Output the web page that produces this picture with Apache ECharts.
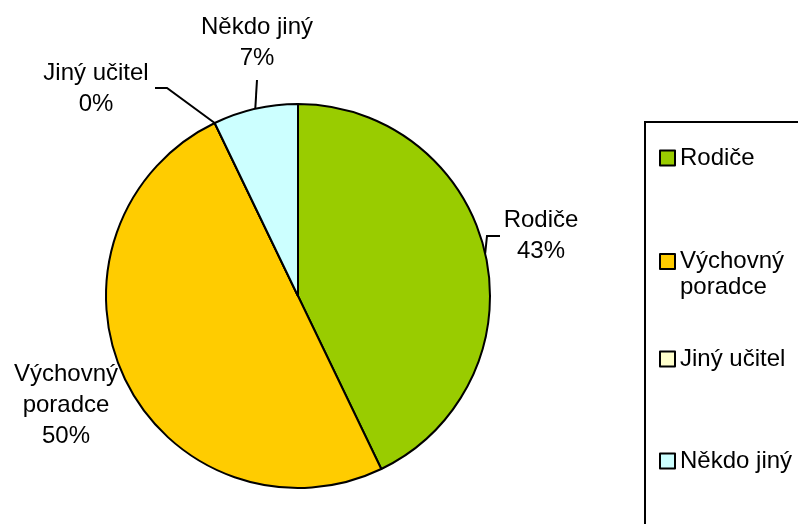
<!DOCTYPE html>
<html>
<head>
<meta charset="utf-8">
<script src="https://cdn.jsdelivr.net/npm/echarts@6/dist/echarts.min.js"></script>
<style>
html,body{margin:0;padding:0;background:#fff;}
#chart{width:798px;height:524px;}
</style>
</head>
<body>
<div id="chart"></div>
<script>
// ---- data ----
const categories = ['Rodiče', 'Výchovný poradce', 'Jiný učitel', 'Někdo jiný'];
const values = [6, 7, 0, 1];           // gives 43 %, 50 %, 0 %, 7 %
const displayNames = ['Rodiče', 'Výchovný\nporadce', 'Jiný učitel', 'Někdo jiný'];
const legendNames = ['Rodiče', ' \nVýchovný\nporadce', 'Jiný učitel', 'Někdo jiný'];
const colors = ['#99CC00', '#FFCC00', '#FFFFCC', '#CCFFFF'];

// ---- layout (not data) ----
const FONT = "'Liberation Sans', Arial, Helvetica, sans-serif";
const labelLayoutSpec = [
  { x: 541, y: 236, elbow: [487, 236], end: [500, 236], line: true },
  { x: 66,  y: 405, line: false },
  { x: 96,  y: 89,  elbow: [167, 88], end: [155, 88], line: true },
  { x: 257, y: 43,  elbow: [257, 80], end: [257, 80], line: true }
];
const legendTops = [142.5, 222.5, 343.5, 445.5];
const legendLineHeights = [31, 26, 31, 31];

const chart = echarts.init(document.getElementById('chart'), null, { renderer: 'canvas' });

const option = {
  backgroundColor: '#ffffff',
  animation: false,
  legend: categories.map((c, i) => ({
    data: [c],
    orient: 'vertical',
    left: 659,
    top: legendTops[i],
    padding: 0,
    itemWidth: 15,
    itemHeight: 15,
    icon: 'rect',
    selectedMode: false,
    formatter: (name) => legendNames[categories.indexOf(name)],
    textStyle: {
      fontSize: 24,
      fontFamily: FONT,
      color: '#000',
      lineHeight: legendLineHeights[i]
    }
  })),
  graphic: [{
    type: 'rect',
    shape: { x: 645, y: 122, width: 300, height: 500 },
    style: { fill: 'none', stroke: '#000', lineWidth: 2 },
    silent: true,
    z: -1
  }],
  series: [{
    type: 'pie',
    center: [298, 296],
    radius: 192,
    startAngle: 90,
    clockwise: true,
    avoidLabelOverlap: false,
    minAngle: 0,
    emphasis: { disabled: true },
    itemStyle: { borderColor: '#000', borderWidth: 2 },
    label: {
      show: true,
      position: 'outside',
      fontSize: 24,
      fontFamily: FONT,
      color: '#000',
      lineHeight: 31,
      align: 'center',
      formatter: (p) => displayNames[p.dataIndex] + '\n' + Math.round(p.percent) + '%'
    },
    labelLine: {
      show: true,
      length: 20,
      length2: 10,
      smooth: false,
      lineStyle: { color: '#000', width: 2 }
    },
    labelLayout: function (p) {
      const s = labelLayoutSpec[p.dataIndex];
      const res = { x: s.x, y: s.y, align: 'center', verticalAlign: 'middle' };
      if (s.line && p.labelLinePoints) {
        const e = p.labelLinePoints[0];
        res.labelLinePoints = [[e[0], e[1]], s.elbow, s.end];
      }
      return res;
    },
    data: categories.map((c, i) => ({
      name: c,
      value: values[i],
      itemStyle: { color: colors[i] },
      labelLine: { show: labelLayoutSpec[i].line }
    }))
  }]
};
chart.setOption(option);
</script>
</body>
</html>
